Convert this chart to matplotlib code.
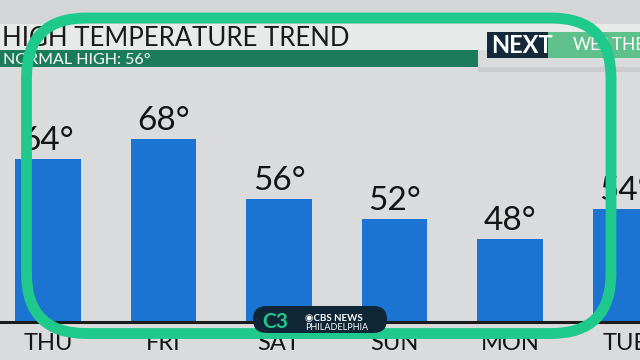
import matplotlib
matplotlib.use("Agg")
import matplotlib.pyplot as plt
from matplotlib.patches import Rectangle, FancyBboxPatch

days = ["THU", "FRI", "SAT", "SUN", "MON", "TUE"]
highs = [64, 68, 56, 52, 48, 54]
title = "HIGH TEMPERATURE TREND"
normal_label = "NORMAL HIGH: 56°"

BG = "#d9dbdc"
BAR = "#1b74d1"
GREEN = "#1ec98b"
DARK_GREEN = "#1b7b5b"
NAVY = "#14293a"

plt.rcParams["font.family"] = ["Lato", "DejaVu Sans"]

fig = plt.figure(figsize=(6.4, 3.6), dpi=100)
fig.patch.set_facecolor(BG)
inch = fig.dpi_scale_trans


# helpers work in pixels measured from the top left corner
def box(x0, y0, x1, y1, color, z=1):
    r = Rectangle((x0 / 100, (360 - y1) / 100), (x1 - x0) / 100, (y1 - y0) / 100,
                  transform=inch, facecolor=color, edgecolor="none", zorder=z)
    fig.add_artist(r)
    return r


def txt(x, y, s, **kw):
    return fig.text(x / 100, (360 - y) / 100, s, transform=inch, **kw)


# header
box(0, 0, 640, 24, "#d3d5d6")
box(0, 24, 640, 50, "#e8e9e9")
box(0, 50, 478, 67, DARK_GREEN)
box(478, 67, 640, 72, "#c9cbcc")
box(487, 32, 548, 58, NAVY)
box(548, 32, 640, 58, "#5ec08b")
txt(2, 45.5, title, fontsize=18.5, color="#1a1a1a", va="baseline")
txt(3, 64, normal_label, fontsize=11.5, color="white", va="baseline")
txt(491, 53, "NEXT", fontsize=17, color="white", weight="bold", va="baseline")
txt(573, 50, "WEATHER", fontsize=12.5, color="white", va="baseline")

# bars
y0, y1 = 31.4, 79.7
ax = fig.add_axes([0, (360 - 321.5) / 360, 1, (321.5 - 80) / 360])
ax.set_facecolor("none")
x = range(len(days))
ax.bar(x, highs, width=0.563, color=BAR)
ax.set_xlim(-0.4156, 5.1255)
ax.set_ylim(y0, y1)
ax.axis("off")
ax.axhline(y0, color="#1a1a1a", lw=2.2, clip_on=False)

for i, (d, v) in enumerate(zip(days, highs)):
    ax.annotate(f"{v}°", (i, v), xytext=(0, 5.8), textcoords="offset points",
                ha="center", va="baseline", fontsize=24, color="#141414")
    ax.annotate(d, (i, y0), xytext=(0, -20.5), textcoords="offset points",
                ha="center", va="baseline", fontsize=17, color="#141414",
                annotation_clip=False)

# green frame over everything
frame = FancyBboxPatch((26.5 / 100, (360 - 333.5) / 100), (611 - 26.5) / 100, (333.5 - 18) / 100,
                       boxstyle="round,pad=0,rounding_size=0.6", transform=inch,
                       fill=False, edgecolor=GREEN, lw=7.8, zorder=10)
fig.add_artist(frame)

# station bug
bug = FancyBboxPatch((253 / 100, (360 - 333) / 100), (387 - 253) / 100, (333 - 306) / 100,
                     boxstyle="round,pad=0,rounding_size=0.135", transform=inch,
                     facecolor="#0f2637", edgecolor="none", zorder=11)
fig.add_artist(bug)
txt(262, 328, "C3", fontsize=15, color=GREEN, weight="bold", va="baseline", zorder=12)
txt(305, 320.5, "◉CBS NEWS", fontsize=7, color="white", weight="bold", va="baseline", zorder=12)
txt(305, 330.5, "PHILADELPHIA", fontsize=6.5, color="white", va="baseline", zorder=12)

fig.savefig("out.png", dpi=100, facecolor=fig.get_facecolor())
